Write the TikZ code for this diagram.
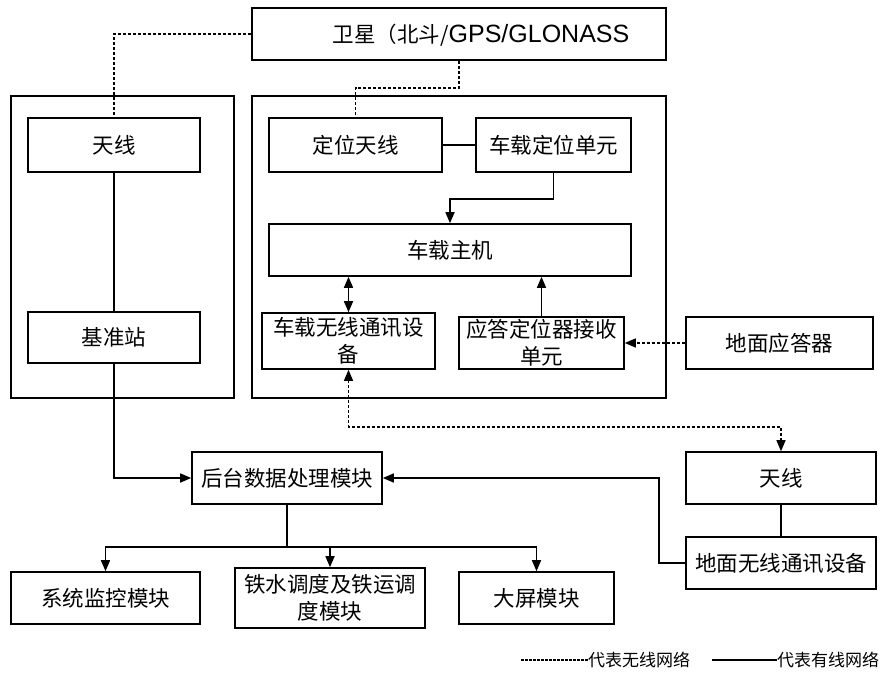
\documentclass[tikz,border=0pt]{standalone}
\usepackage{fontspec}
\setmainfont{Noto Sans CJK SC}
\newfontfamily\latinsans{Liberation Sans}
\usetikzlibrary{arrows.meta}
\begin{document}
\begin{tikzpicture}[x=1pt,y=-1pt,
  box/.style={draw,line width=1.6pt,inner sep=0pt,align=center,font=\fontsize{21.5}{27}\selectfont},
  wire/.style={line width=1.6pt},
  wl/.style={line width=1.4pt,dash pattern=on 3pt off 2pt},
  tip/.style={-{Triangle[length=11pt,width=9pt]}},
  tips/.style={{Triangle[length=11pt,width=9pt]}-{Triangle[length=11pt,width=9pt]}},
  legtext/.style={anchor=west,inner sep=0pt,font=\fontsize{17}{20}\selectfont}]
\useasboundingbox (0,0) rectangle (882,672);
% containers
\node[box,minimum width=223pt,minimum height=302pt] (outerL) at (122.5,247) {};
\node[box,minimum width=414pt,minimum height=302pt] (outerR) at (459,247) {};
% satellite
\node[box,minimum width=414pt,minimum height=52pt] (sat) at (459,34) {};
\node[inner sep=0pt,font=\fontsize{21.5}{27}\selectfont] (sattext) at (481,35) {卫星（北斗/{\latinsans\fontsize{25}{27}\selectfont GPS/GLONASS}};
% boxes
\node[box,minimum width=172pt,minimum height=54pt] (ant1) at (114,145) {天线};
\node[box,minimum width=172pt,minimum height=51pt] (base) at (114,337.5) {基准站};
\node[box,minimum width=173pt,minimum height=54pt] (posant) at (355.5,145) {定位天线};
\node[box,minimum width=155pt,minimum height=54pt] (posunit) at (553.5,145) {车载定位单元};
\node[box,minimum width=362pt,minimum height=52pt] (host) at (450,250) {车载主机};
\node[box,minimum width=173pt,minimum height=56pt] (vcomm) at (348.5,341) {车载无线通讯设\\备};
\node[box,minimum width=165pt,minimum height=52pt] (resp) at (541.5,343) {应答定位器接收\\单元};
\node[box,minimum width=187pt,minimum height=52pt] (ground) at (779.5,343) {地面应答器};
\node[box,minimum width=190pt,minimum height=52pt] (ant2) at (781,478) {天线};
\node[box,minimum width=190pt,minimum height=52pt] (gcomm) at (781,563) {地面无线通讯设备};
\node[box,minimum width=190pt,minimum height=52pt] (back) at (287,478) {后台数据处理模块};
\node[box,minimum width=189pt,minimum height=52pt] (mon) at (105.5,598) {系统监控模块};
\node[box,minimum width=190pt,minimum height=60pt] (iron) at (330,598) {铁水调度及铁运调\\度模块};
\node[box,minimum width=155pt,minimum height=52pt] (screen) at (536.5,598) {大屏模块};
% wireless links
\draw[wl] (sat.west) -| (ant1.north);
\draw[wl] (sat.south) -- ++(0,27) -| (posant.north);
\draw[wl,tip] (ground.west) -- (resp.east);
\draw[wl,tips] (vcomm.south) -- ++(0,57) -| (ant2.north);
% wired links
\draw[wire] (ant1.south) -- (base.north);
\draw[wire,tip] (base.south) |- (back.west);
\draw[wire] (posant.east) -- (posunit.west);
\draw[wire,tip] (posunit.south) -- ++(0,26) -| (host.north);
\draw[wire,tips] (vcomm.north) -- (vcomm.north |- host.south);
\draw[wire,tip] (resp.north) -- (resp.north |- host.south);
\draw[wire] (ant2.south) -- (gcomm.north);
\draw[wire,tip] (gcomm.west) -- ++(-26,0) |- (back.east);
\draw[wire] (back.south) -- ++(0,42) coordinate (j);
\draw[wire,tip] (j) -| (mon.north);
\draw[wire,tip] (j) -| (iron.north);
\draw[wire,tip] (j) -| (screen.north);
% legend
\node[legtext] (leg1) at (588,660) {代表无线网络};
\coordinate (l1) at (521,660);
\draw[line width=1.1pt,dash pattern=on 2.5pt off 1.5pt] (l1) -- (leg1.west);
\node[legtext] (leg2) at (777,660) {代表有线网络};
\coordinate (l2) at (712,660);
\draw[wire] (l2) -- (leg2.west);
\end{tikzpicture}
\end{document}
